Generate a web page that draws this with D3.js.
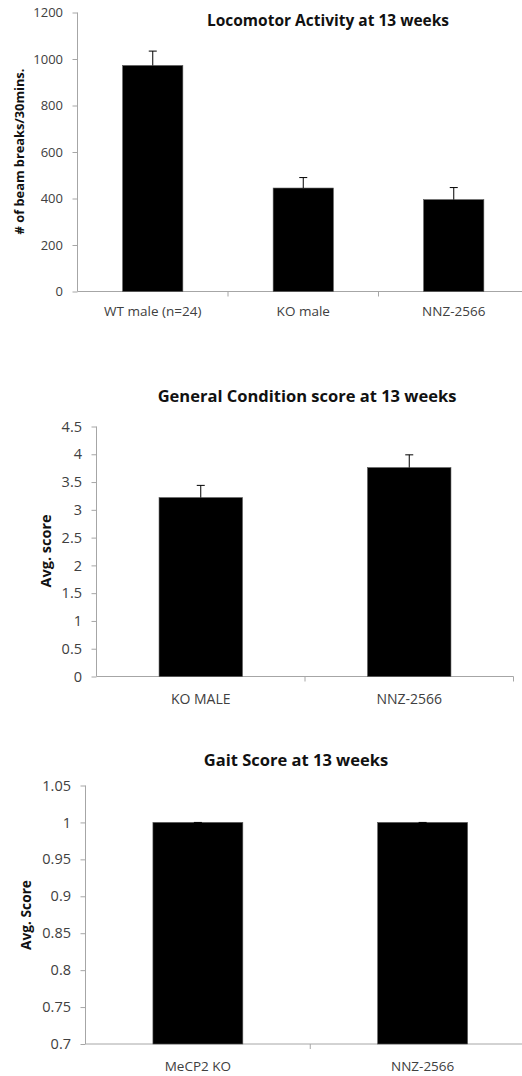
<!DOCTYPE html>
<html>
<head>
<meta charset="utf-8">
<script src="https://cdn.jsdelivr.net/npm/d3@7"></script>
<style>
  html, body { margin: 0; padding: 0; background: #fff; }
  svg { display: block; }
  text { font-family: "Open Sans", "Noto Sans", sans-serif; }
</style>
</head>
<body>
<svg id="fig" width="522" height="1076"></svg>
<script>
// Locomotor activity panel
const locoCategories = ["WT male (n=24)", "KO male", "NNZ-2566"];
const locoValues = [972, 445, 395];
const locoErrors = [62, 45, 52];
const locoTicks = [0, 200, 400, 600, 800, 1000, 1200];

// General condition panel
const condCategories = ["KO MALE", "NNZ-2566"];
const condValues = [3.22, 3.76];
const condErrors = [0.22, 0.23];
const condTicks = [0, 0.5, 1, 1.5, 2, 2.5, 3, 3.5, 4, 4.5];

// Gait panel
const gaitCategories = ["MeCP2 KO", "NNZ-2566"];
const gaitValues = [1, 1];
const gaitErrors = [0, 0];
const gaitTicks = [0.7, 0.75, 0.8, 0.85, 0.9, 0.95, 1, 1.05];

const svg = d3.select("#fig");
const axisColor = "#a6a6a6";
const labelColor = "#404040";

// scale a text's font size so that it spans the given length
function fitText(sel, length) {
  const base = parseFloat(sel.style("font-size"));
  const measured = sel.node().getComputedTextLength();
  if (measured > 0) sel.style("font-size", (base * length / measured) + "px");
}

function panel(cfg) {
  const g = svg.append("g");
  const x = d3.scaleBand()
    .domain(cfg.categories)
    .range([cfg.left, cfg.right])
    .paddingInner(0.6)
    .paddingOuter(0.3);
  const y = d3.scaleLinear()
    .domain([cfg.ticks[0], cfg.ticks[cfg.ticks.length - 1]])
    .range([cfg.bottom, cfg.top]);

  // y axis
  const yAxis = g.append("g")
    .attr("transform", `translate(${cfg.left},0)`)
    .call(d3.axisLeft(y).tickValues(cfg.ticks).tickSize(5).tickPadding(9.5)
      .tickFormat(d => d));
  yAxis.select(".domain").attr("stroke", axisColor).attr("d", `M0,${cfg.top}V${cfg.bottom}`);
  yAxis.selectAll(".tick line").attr("stroke", axisColor);
  yAxis.selectAll(".tick text")
    .attr("fill", labelColor)
    .style("font-size", cfg.tickSize + "px");

  // x axis baseline with separators between categories
  const step = x.step();
  g.append("line")
    .attr("x1", cfg.left).attr("x2", cfg.right)
    .attr("y1", cfg.bottom).attr("y2", cfg.bottom)
    .attr("stroke", axisColor);
  const seps = d3.range(1, cfg.categories.length + 1).map(i => cfg.left + i * step);
  g.selectAll(".sep").data(seps).join("line")
    .attr("x1", d => d).attr("x2", d => d)
    .attr("y1", cfg.bottom).attr("y2", cfg.bottom + 5)
    .attr("stroke", axisColor);

  // bars
  const data = cfg.categories.map((c, i) => ({ c, v: cfg.values[i], e: cfg.errors[i] }));
  g.selectAll(".bar").data(data).join("rect")
    .attr("x", d => x(d.c))
    .attr("width", x.bandwidth())
    .attr("y", d => y(d.v))
    .attr("height", d => y(cfg.ticks[0]) - y(d.v))
    .attr("fill", "#000")
    .attr("stroke", "#555")
    .attr("stroke-width", 0.6);

  // error bars (upper only)
  const cap = 4;
  data.forEach(d => {
    const cx = x(d.c) + x.bandwidth() / 2;
    g.append("line")
      .attr("x1", cx).attr("x2", cx)
      .attr("y1", y(d.v)).attr("y2", y(d.v + d.e))
      .attr("stroke", "#000").attr("stroke-width", 1);
    g.append("line")
      .attr("x1", cx - cap).attr("x2", cx + cap)
      .attr("y1", y(d.v + d.e)).attr("y2", y(d.v + d.e))
      .attr("stroke", "#000").attr("stroke-width", 1);
  });

  // category labels
  g.selectAll(".cat").data(cfg.categories).join("text")
    .attr("x", d => x(d) + x.bandwidth() / 2)
    .attr("y", cfg.catY)
    .attr("text-anchor", "middle")
    .attr("dominant-baseline", "middle")
    .attr("fill", labelColor)
    .style("font-size", cfg.catSize + "px")
    .text(d => d);

  // title
  g.append("text")
    .attr("x", cfg.titleX).attr("y", cfg.titleY)
    .attr("text-anchor", "middle")
    .attr("fill", "#111")
    .style("font-size", cfg.titleSize + "px")
    .style("font-weight", "bold")
    .text(cfg.title);

  // y axis title
  const yt = g.append("text")
    .attr("transform", `translate(${cfg.yLabelX},${cfg.yLabelY}) rotate(-90)`)
    .attr("text-anchor", "middle")
    .attr("dominant-baseline", "middle")
    .attr("fill", "#111")
    .style("font-size", "12px")
    .style("font-weight", "bold")
    .text(cfg.yLabel);
  fitText(yt, cfg.yLabelLength);
}

panel({
  categories: locoCategories, values: locoValues, errors: locoErrors, ticks: locoTicks,
  left: 77.5, right: 529, top: 12.5, bottom: 291.5,
  tickSize: 13, catSize: 13.5, catY: 312,
  title: "Locomotor Activity at 13 weeks", titleX: 328, titleY: 26, titleSize: 15.5,
  yLabel: "# of beam breaks/30mins.", yLabelX: 20.5, yLabelY: 151.5, yLabelLength: 166
});

panel({
  categories: condCategories, values: condValues, errors: condErrors, ticks: condTicks,
  left: 96.5, right: 513.5, top: 426.5, bottom: 676.5,
  tickSize: 14.5, catSize: 14, catY: 700,
  title: "General Condition score at 13 weeks", titleX: 307, titleY: 402, titleSize: 16.5,
  yLabel: "Avg. score", yLabelX: 47, yLabelY: 551, yLabelLength: 73
});

panel({
  categories: gaitCategories, values: gaitValues, errors: gaitErrors, ticks: gaitTicks,
  left: 85.5, right: 535, top: 785.5, bottom: 1044,
  tickSize: 14.5, catSize: 13.5, catY: 1067,
  title: "Gait Score at 13 weeks", titleX: 296, titleY: 766, titleSize: 16.5,
  yLabel: "Avg. Score", yLabelX: 27, yLabelY: 915, yLabelLength: 70
});
</script>
</body>
</html>
